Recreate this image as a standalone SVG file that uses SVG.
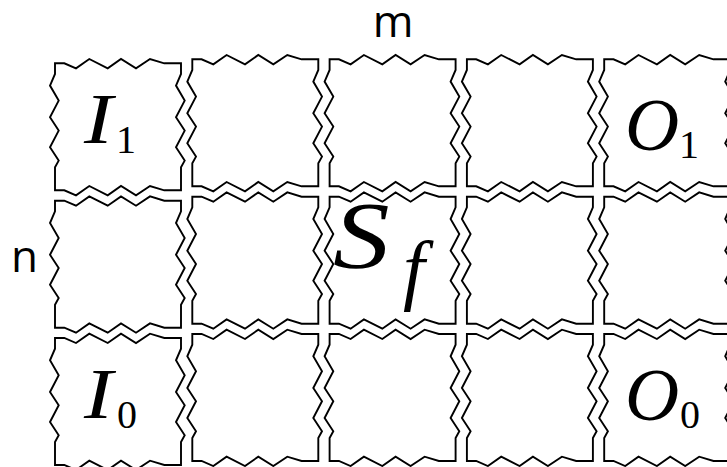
<svg xmlns="http://www.w3.org/2000/svg" width="727" height="467" viewBox="0 0 727 467">
<style>
.cellshape{fill:#fff;stroke:#000;stroke-width:1.9;stroke-linejoin:miter}
.axis{font-family:"Open Sans","Liberation Sans",sans-serif;font-size:44px;fill:#000}
.cal{font-family:"Liberation Serif","Times New Roman",serif;font-style:italic;fill:#000}
.sub{font-family:"Liberation Serif","Times New Roman",serif;fill:#000}
</style>
<defs>
<path id="cell" class="cellshape" d="M0,0 L9.3,0 L21,5 L34.3,-4.3 L52.7,5 L66,-4.3 L81,5 L95,-4.3 L109.3,0 L126,0 L126,10.7 L121,22.3 L129.7,37.3 L121,54 L129.7,67.3 L121,84 L129.7,97.3 L126,104 L126,127 L109.3,127 L95,122.7 L81,132 L66,122.7 L52.7,132 L34.3,122.7 L21,132 L9.3,127 L0,127 L0,104 L3.7,97.3 L-5,84 L3.7,67.3 L-5,54 L3.7,37.3 L-5,22.3 L0,10.7 Z"/>
</defs>
<rect width="727" height="467" fill="#fff"/>
<g id="connectors"></g>
<g id="cell-r0c0"><use href="#cell" x="55" y="63.3"/><text class="cal" font-size="72" transform="translate(84,143) scale(1.2,1)">I</text><text class="sub" x="116" y="153" font-size="40">1</text></g>
<g id="cell-r0c1"><use href="#cell" x="192.3" y="59.3"/></g>
<g id="cell-r0c2"><use href="#cell" x="329.6" y="59.3"/></g>
<g id="cell-r0c3"><use href="#cell" x="466.9" y="59.3"/></g>
<g id="cell-r0c4"><use href="#cell" x="604.2" y="59.3"/><text class="cal" x="625" y="150" font-size="75">O</text><text class="sub" x="679" y="158" font-size="40">1</text></g>
<g id="cell-r1c0"><use href="#cell" x="55" y="200.7"/></g>
<g id="cell-r1c1"><use href="#cell" x="192.3" y="196.7"/></g>
<g id="cell-r1c2"><use href="#cell" x="329.6" y="196.7"/><text class="cal" font-size="96" transform="translate(333,268) scale(1.18,1)">S</text><text class="cal" x="403" y="295" font-size="78">f</text></g>
<g id="cell-r1c3"><use href="#cell" x="466.9" y="196.7"/></g>
<g id="cell-r1c4"><use href="#cell" x="604.2" y="196.7"/></g>
<g id="cell-r2c0"><use href="#cell" x="55" y="338"/><text class="cal" font-size="72" transform="translate(84,418) scale(1.2,1)">I</text><text class="sub" x="117" y="428" font-size="40">0</text></g>
<g id="cell-r2c1"><use href="#cell" x="192.3" y="334"/></g>
<g id="cell-r2c2"><use href="#cell" x="329.6" y="334"/></g>
<g id="cell-r2c3"><use href="#cell" x="466.9" y="334"/></g>
<g id="cell-r2c4"><use href="#cell" x="604.2" y="334"/><text class="cal" x="625" y="420" font-size="75">O</text><text class="sub" x="680" y="428" font-size="40">0</text></g>
<g id="label-m"><text class="axis" x="393" y="37" text-anchor="middle">m</text></g>
<g id="label-n"><text class="axis" x="11" y="272">n</text></g>
</svg>
